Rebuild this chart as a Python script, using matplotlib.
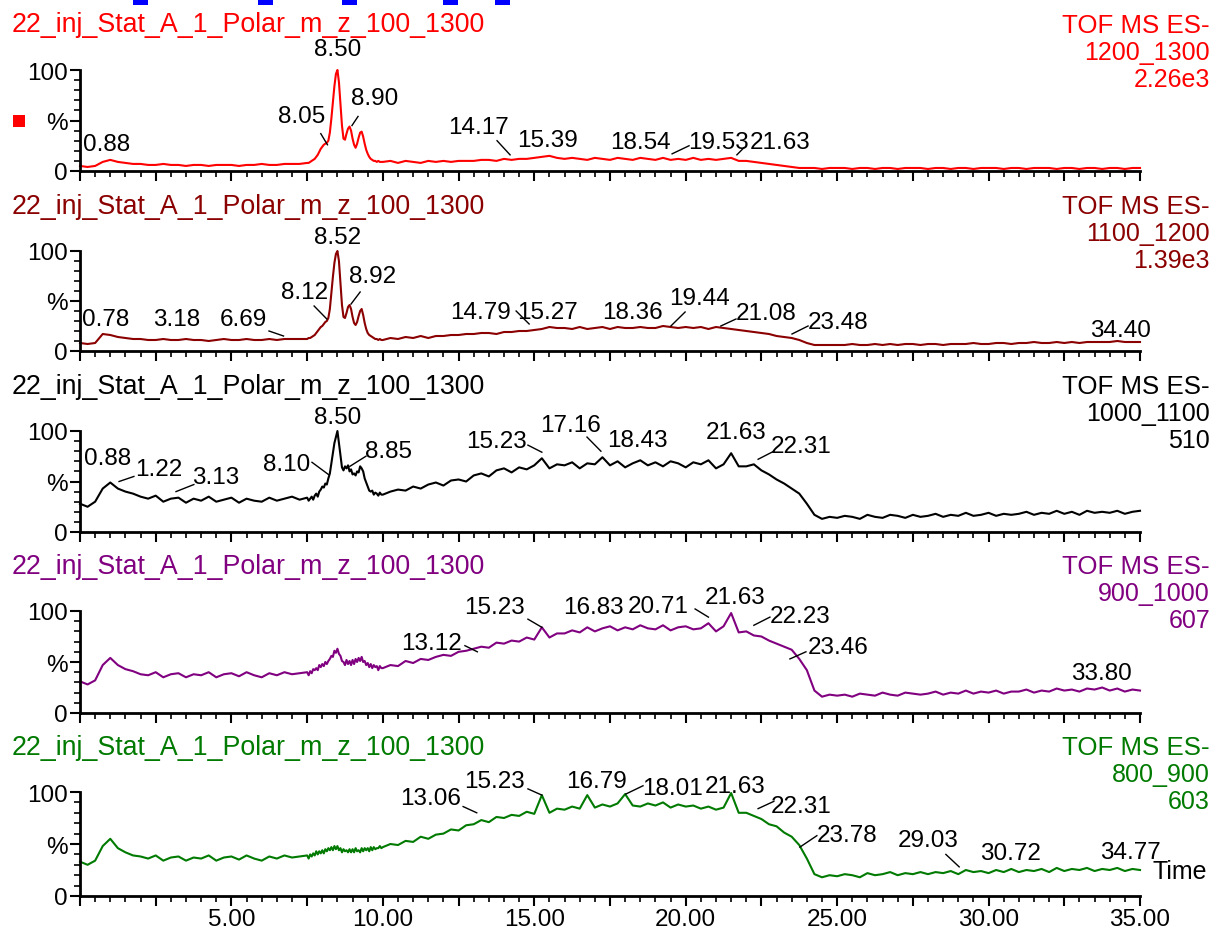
import numpy as np
import matplotlib
matplotlib.use("Agg")
import matplotlib.pyplot as plt
from matplotlib.patches import Rectangle
from matplotlib.ticker import MultipleLocator, FuncFormatter

plt.rcParams['font.family'] = ['Liberation Sans', 'DejaVu Sans']

W, H = 1220, 937

# timpii de esantionare (min): pas 0.25, mai des in zona picului de la 8.5
timp = np.concatenate([np.arange(0, 30) * 0.25,
                       np.round(np.arange(150, 200) * 0.05, 2),
                       np.arange(40, 141) * 0.25])

nume_proba = "22_inj_Stat_A_1_Polar_m_z_100_1300"
mod_ms = "TOF MS ES-"
domenii_mz = ["1200_1300", "1100_1200", "1000_1100", "900_1000", "800_900"]
intensitati = ["2.26e3", "1.39e3", "510", "607", "603"]
culori = ["#ff0000", "#8b0000", "#000000", "#800080", "#007a00"]

# intensitate relativa (%) - 0..7.25 | 7.5..9.95 | 10..35
pct_1200_1300 = [5, 4, 5, 9, 11, 9, 8, 7, 7, 6, 6, 7, 6, 6, 5, 6, 6, 5, 6, 6, 6, 5, 6, 6, 7, 6, 6, 7, 7, 7,
                 8, 8, 9, 10, 11, 12, 14, 16, 19, 22,
                 24, 26, 27, 28, 30, 38, 52, 68, 84, 96,
                 100, 88, 66, 45, 32, 31, 37, 42, 44, 40,
                 32, 26, 23, 27, 33, 38, 39, 34, 27, 21,
                 17, 14, 12, 11, 10, 10, 9, 10, 9, 9,
                 9, 10, 8, 10, 9, 8, 10, 9, 10, 9, 10, 10,
                 10, 11, 11, 10, 12, 11, 12, 12, 13, 14, 15, 13,
                 12, 13, 12, 11, 13, 12, 11, 13, 12, 11, 13, 12,
                 11, 13, 11, 12, 11, 13, 11, 12, 11, 12, 13, 10,
                 10, 9, 8, 7, 6, 5, 4, 3, 3, 3, 2, 3,
                 3, 3, 2, 3, 3, 2, 3, 3, 2, 3, 3, 3,
                 2, 3, 3, 2, 3, 3, 2, 3, 3, 3, 2, 3,
                 3, 2, 3, 3, 3, 2, 3, 3, 2, 3, 3, 2,
                 3, 3, 2, 3, 3]

pct_1100_1200 = [8, 7, 8, 17, 16, 14, 13, 12, 12, 11, 11, 12, 11, 11, 12, 11, 11, 10, 11, 12, 11, 11, 12, 11, 11, 12, 11, 12, 12, 12,
                 12, 13, 13, 14, 15, 16, 18, 20, 22, 24,
                 25, 27, 29, 30, 33, 42, 58, 74, 88, 97,
                 100, 90, 68, 46, 34, 33, 38, 44, 46, 42,
                 34, 28, 26, 29, 35, 40, 42, 36, 28, 22,
                 18, 16, 15, 14, 13, 12, 12, 11, 12, 11,
                 11, 13, 12, 14, 13, 15, 13, 15, 15, 16, 16, 17,
                 17, 18, 18, 17, 19, 19, 20, 20, 21, 22, 24, 23,
                 23, 22, 24, 22, 23, 24, 22, 24, 23, 23, 24, 23,
                 23, 25, 24, 23, 24, 23, 24, 22, 24, 23, 22, 21,
                 20, 19, 18, 17, 15, 14, 13, 11, 8, 6, 6, 6,
                 6, 6, 7, 6, 6, 7, 6, 7, 6, 7, 7, 6,
                 7, 7, 6, 7, 7, 7, 8, 7, 7, 8, 8, 7,
                 8, 8, 9, 8, 8, 9, 8, 9, 8, 9, 9, 9,
                 9, 10, 9, 9, 9]

pct_1000_1100 = [28, 25, 30, 43, 49, 43, 40, 38, 35, 33, 36, 30, 33, 34, 29, 33, 31, 35, 30, 32, 34, 29, 33, 31, 30, 34, 31, 33, 35, 32,
                 34, 31, 33, 35, 32, 36, 38, 35, 40, 42,
                 45, 44, 48, 47, 53, 58, 68, 78, 88, 94,
                 100, 88, 76, 64, 61, 65, 63, 66, 60, 62,
                 57, 58, 56, 60, 59, 65, 63, 60, 53, 49,
                 45, 41, 40, 41, 37, 39, 38, 36, 39, 37,
                 37, 40, 42, 41, 45, 43, 47, 49, 46, 51, 52, 50,
                 56, 58, 55, 61, 63, 59, 64, 62, 66, 73, 63, 67,
                 66, 69, 63, 68, 67, 74, 66, 70, 64, 68, 71, 66,
                 69, 65, 70, 68, 64, 69, 67, 71, 63, 67, 78, 65,
                 65, 67, 61, 57, 52, 48, 43, 38, 28, 17, 13, 15,
                 14, 16, 15, 13, 17, 15, 14, 17, 16, 14, 17, 15,
                 16, 18, 15, 17, 16, 19, 16, 17, 19, 16, 18, 17,
                 18, 20, 17, 19, 18, 21, 18, 20, 17, 21, 19, 20,
                 19, 21, 18, 20, 21]

pct_900_1000 = [31, 28, 32, 47, 54, 47, 43, 41, 38, 37, 40, 35, 38, 39, 35, 38, 37, 40, 35, 38, 39, 36, 40, 37, 35, 39, 37, 40, 38, 39,
                40, 37, 41, 39, 43, 42, 44, 42, 47, 45,
                48, 46, 50, 48, 51, 53, 56, 55, 61, 59,
                63, 58, 56, 51, 50, 47, 52, 48, 51, 47,
                52, 48, 53, 50, 54, 51, 55, 50, 51, 47,
                49, 45, 48, 44, 47, 45, 46, 42, 46, 44,
                44, 47, 46, 51, 49, 53, 52, 55, 57, 56, 60, 61,
                63, 65, 64, 69, 68, 71, 70, 74, 72, 84, 74, 78,
                78, 81, 79, 84, 80, 83, 85, 81, 84, 82, 86, 83,
                82, 86, 81, 84, 85, 82, 83, 88, 80, 85, 98, 79,
                80, 76, 75, 71, 68, 65, 62, 53, 42, 22, 16, 18,
                17, 18, 16, 19, 18, 17, 20, 18, 17, 20, 19, 18,
                19, 21, 18, 20, 19, 22, 19, 21, 20, 22, 19, 21,
                21, 23, 20, 22, 21, 24, 22, 23, 21, 24, 23, 25,
                22, 24, 21, 23, 22]

pct_800_900 = [33, 30, 34, 48, 55, 46, 42, 39, 38, 36, 39, 34, 37, 38, 34, 37, 36, 39, 34, 37, 38, 35, 39, 36, 34, 38, 36, 39, 37, 38,
               39, 36, 40, 38, 41, 39, 43, 40, 43, 41,
               44, 41, 45, 43, 46, 44, 47, 44, 48, 45,
               48, 44, 46, 42, 45, 43, 44, 42, 45, 42,
               45, 42, 46, 43, 44, 42, 46, 43, 46, 44,
               46, 43, 47, 44, 47, 45, 46, 46, 48, 46,
               47, 50, 49, 53, 52, 57, 55, 59, 60, 64, 63, 68,
               69, 73, 71, 76, 75, 78, 77, 81, 79, 97, 80, 84,
               83, 86, 84, 97, 85, 88, 86, 89, 98, 87, 86, 89,
               87, 90, 85, 88, 86, 87, 84, 86, 83, 85, 99, 80,
               80, 77, 74, 69, 67, 61, 57, 49, 36, 21, 18, 20,
               19, 21, 20, 18, 22, 20, 21, 23, 20, 22, 21, 23,
               21, 23, 22, 24, 21, 25, 23, 24, 22, 25, 23, 26,
               23, 25, 24, 26, 23, 27, 24, 26, 25, 27, 24, 26,
               25, 27, 24, 26, 25]

valori = [pct_1200_1300, pct_1100_1200, pct_1000_1100, pct_900_1000, pct_800_900]
for v in valori:
    assert len(v) == len(timp), len(v)

# etichetele de pic (timp de retentie) pe fiecare trasa
etichete = [
    ["0.88", "8.05", "8.50", "8.90", "14.17", "15.39", "18.54", "19.53", "21.63"],
    ["0.78", "3.18", "6.69", "8.12", "8.52", "8.92", "14.79", "15.27", "18.36", "19.44", "21.08", "23.48", "34.40"],
    ["0.88", "1.22", "3.13", "8.10", "8.50", "8.85", "15.23", "17.16", "18.43", "21.63", "22.31"],
    ["13.12", "15.23", "16.83", "20.71", "21.63", "22.23", "23.46", "33.80"],
    ["13.06", "15.23", "16.79", "18.01", "21.63", "22.31", "23.78", "29.03", "30.72", "34.77"],
]

# pozitia textului (min, %) si linia de legatura (x1, y1, x2, y2) sau None
pozitii = [
    [(0.89, 27, None), (7.33, 54, (8.17, 26, 7.95, 37)), (8.49, 121, None), (9.74, 72, (8.98, 45, 9.18, 54)),
     (13.17, 44, (13.77, 30, 14.20, 16)), (15.42, 31, None), (18.49, 29, None),
     (21.07, 29, (19.55, 17, 20.11, 25)), (23.12, 29, (21.69, 16, 21.92, 23))],
    [(0.83, 32, None), (3.20, 32, None), (5.38, 32, (6.24, 20, 6.72, 15)), (7.40, 59, (7.73, 45, 8.15, 32)),
     (8.52, 114, None), (9.67, 75, (8.95, 47, 9.25, 59)), (13.21, 39, (14.40, 40, 14.83, 27)),
     (15.42, 39, None), (18.23, 39, None), (20.47, 53, (19.51, 25, 19.98, 39)),
     (22.65, 38, (21.16, 25, 21.66, 32)), (25.03, 29, (23.51, 17, 24.04, 25)), (34.34, 21, None)],
    [(0.92, 73, None), (2.61, 62, (1.29, 50, 1.78, 55)), (4.49, 54, (3.17, 40, 3.76, 47)),
     (6.83, 67, (7.66, 69, 8.20, 57)), (8.52, 114, None), (10.17, 80, (8.91, 65, 9.44, 75)),
     (13.74, 90, (14.79, 86, 15.25, 79)), (16.18, 106, (16.74, 94, 17.20, 80)), (18.39, 91, None),
     (21.66, 99, None), (23.81, 85, (22.39, 72, 22.91, 80))],
    [(11.59, 69, (12.71, 66, 13.12, 60)), (13.70, 104, (14.79, 92, 15.25, 84)), (16.94, 104, None),
     (19.08, 105, (20.31, 102, 20.75, 94)), (21.63, 114, None), (23.77, 95, (22.25, 86, 22.78, 94)),
     (25.03, 65, (23.44, 53, 23.97, 60)), (33.74, 39, None)],
    [(11.56, 94, (12.65, 86, 13.10, 80)), (13.70, 111, (14.79, 103, 15.25, 97)), (17.04, 111, None),
     (19.58, 104, (18.02, 98, 18.59, 106)), (21.63, 106, None), (23.81, 87, (22.39, 84, 22.91, 91)),
     (25.33, 59, (23.77, 47, 24.33, 58)), (28.00, 54, (28.59, 40, 29.03, 28)), (30.71, 41, None),
     (34.70, 42, None)],
]

# pozitia panourilor in pixeli: (y la 100%, y la 0%)
panouri_px = [(71, 172), (252, 352), (432, 533), (612, 714), (793, 897)]
FS_TITLU = 19.3
FS_CIFRE = 17.5


def fy(y):
    return 1 - y / H


def format_timp(v, p):
    if v > 0 and abs(v / 5 - round(v / 5)) < 1e-6:
        return f"{v:.2f}"
    return ""


fig = plt.figure(figsize=(W / 100, H / 100), dpi=100)
fig.patch.set_facecolor("white")

for i in range(5):
    y100, y0 = panouri_px[i]
    ax = fig.add_axes([80 / W, fy(y0), 1060 / W, (y0 - y100) / H])
    ax.patch.set_alpha(0)
    ax.plot(timp, valori[i], color=culori[i], linewidth=1.5, clip_on=False)
    ax.set_xlim(0, 35)
    ax.set_ylim(0, 100)
    for s in ["top", "right"]:
        ax.spines[s].set_visible(False)
    for s in ["left", "bottom"]:
        ax.spines[s].set_linewidth(2)
    ax.set_yticks([0, 50, 100])
    ax.set_yticklabels(["0", "%", "100"])
    ax.yaxis.set_minor_locator(MultipleLocator(10))
    ax.xaxis.set_major_locator(MultipleLocator(2.5))
    ax.xaxis.set_minor_locator(MultipleLocator(0.5))
    ax.xaxis.set_major_formatter(FuncFormatter(format_timp))
    ax.tick_params(which="major", length=7, width=1.5, labelsize=FS_CIFRE, pad=2)
    ax.tick_params(which="minor", length=4, width=1.2)
    if i < 4:
        ax.tick_params(labelbottom=False)

    for txt, (tx, ty, leg) in zip(etichete[i], pozitii[i]):
        ax.text(tx, ty, txt, ha="center", va="center", fontsize=FS_CIFRE, color="black")
        if leg is not None:
            ax.plot([leg[0], leg[2]], [leg[1], leg[3]], color="black", linewidth=1, clip_on=False)

    y_titlu = y100 - 46 if i == 0 else y100 - 45
    fig.text(12 / W, fy(y_titlu), nume_proba, color=culori[i], fontsize=FS_TITLU, ha="left", va="center")
    fig.text(1210 / W, fy(y100 - 45), mod_ms, color=culori[i], fontsize=18.6, ha="right", va="center")
    fig.text(1210 / W, fy(y100 - 18), domenii_mz[i], color=culori[i], fontsize=18, ha="right", va="center")
    fig.text(1210 / W, fy(y100 + 9), intensitati[i], color=culori[i], fontsize=18, ha="right", va="center")

fig.text(1180 / W, fy(872), "Time", fontsize=18, ha="center", va="center")

# patratul rosu de langa prima trasa si marcajele albastre taiate de sus
fig.patches.append(Rectangle((13 / W, fy(128)), 12 / W, 12 / H, transform=fig.transFigure,
                             facecolor="#ff0000", edgecolor="none"))
for x1, x2 in [(133, 148), (258, 273), (342, 357), (443, 458), (495, 510)]:
    fig.patches.append(Rectangle((x1 / W, fy(6)), (x2 - x1) / W, 6 / H, transform=fig.transFigure,
                                 facecolor="#0000ff", edgecolor="none"))

fig.savefig("out.png", dpi=100)
